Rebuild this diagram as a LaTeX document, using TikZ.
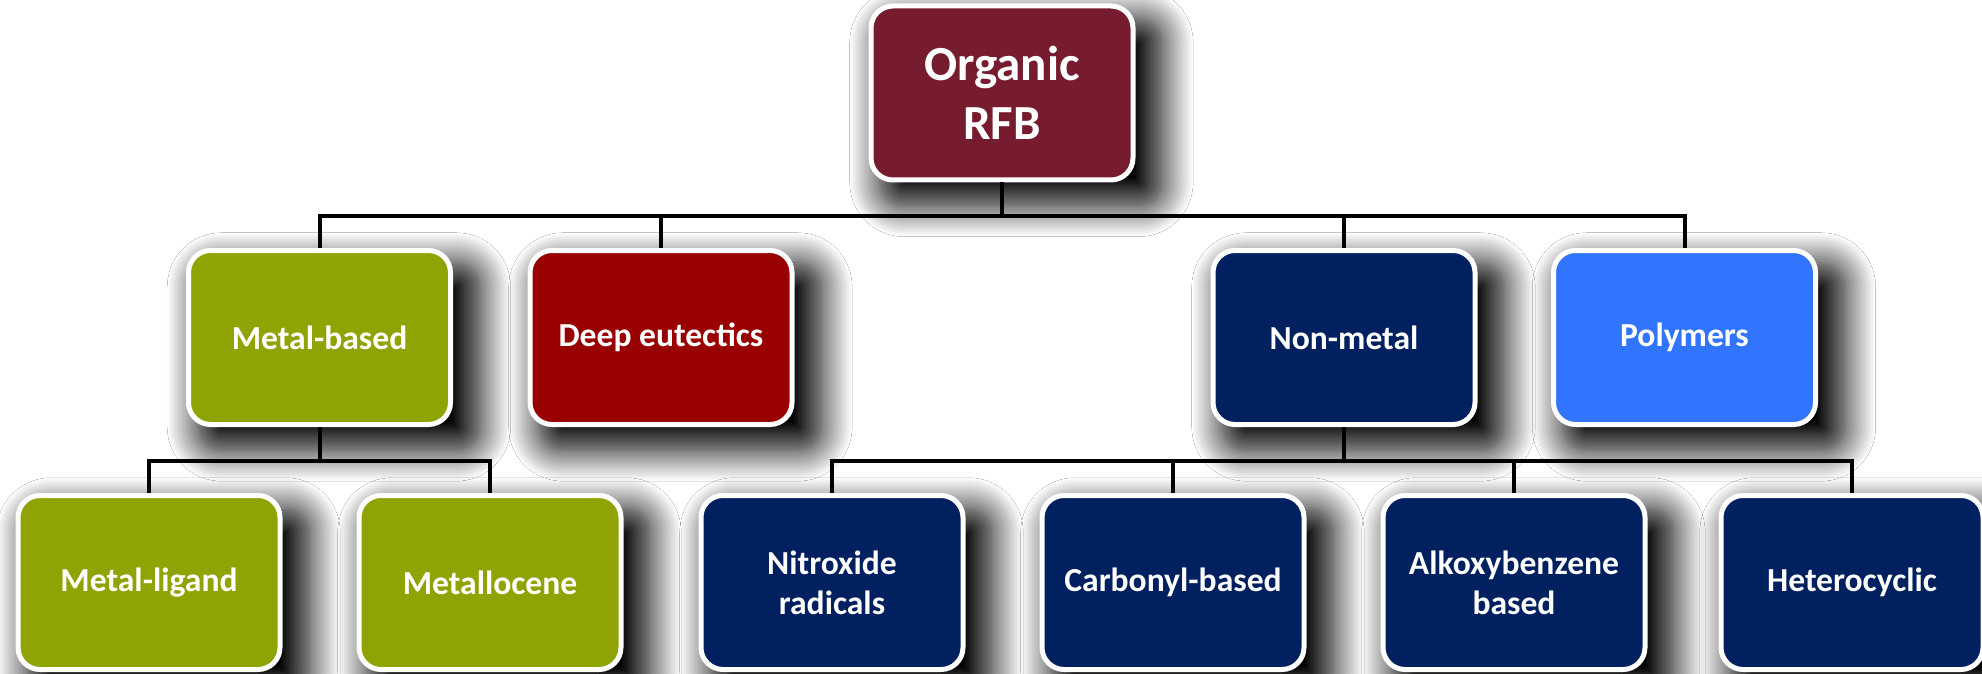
\documentclass[tikz,border=0pt]{standalone}
\usepackage{fontspec}
\setmainfont{Carlito}
\usetikzlibrary{shadows.blur}
\definecolor{cRoot}{RGB}{118,28,46}
\definecolor{cOlive}{RGB}{143,164,4}
\definecolor{cDeep}{RGB}{153,0,0}
\definecolor{cNavy}{RGB}{0,32,96}
\definecolor{cBlue}{RGB}{49,117,255}
\tikzset{
  box/.style={rectangle, rounded corners=11pt, draw=white, line width=2.5pt,
    minimum width=131pt, minimum height=87pt, text=white, align=center,
    font=\bfseries\fontsize{16.8}{20}\selectfont,
    blur shadow={shadow xshift=9pt, shadow yshift=-9pt, shadow blur radius=14pt,
      shadow blur steps=20, shadow opacity=100, shadow scale=1.08}},
  rootbox/.style={box, font=\bfseries\fontsize{24.5}{29.5}\selectfont},
  conn/.style={draw=black, line width=2pt},
}
\begin{document}
\begin{tikzpicture}[x=0.5pt,y=-0.5pt]
\fill[white] (0,0) rectangle (1982,674);
\useasboundingbox (0,0) rectangle (1982,674);
% nodes
\node[rootbox, fill=cRoot] (root) at (1002,93) {Organic\\RFB};
\node[box, fill=cOlive] (mb) at (319.5,337.5) {Metal-based};
\node[box, fill=cDeep] (de) at (661,337.5) {Deep eutectics};
\node[box, fill=cNavy] (nm) at (1344,337.5) {Non-metal};
\node[box, fill=cBlue] (pol) at (1684.5,337.5) {Polymers};
\node[box, fill=cOlive] (ml) at (149,582.5) {Metal-ligand};
\node[box, fill=cOlive] (mc) at (490,582.5) {Metallocene};
\node[box, fill=cNavy] (nr) at (832,582.5) {Nitroxide\\radicals};
\node[box, fill=cNavy] (cb) at (1173,582.5) {Carbonyl-based};
\node[box, fill=cNavy] (ab) at (1514,582.5) {Alkoxybenzene\\based};
\node[box, fill=cNavy] (hc) at (1852,582.5) {Heterocyclic};
% connectors
\coordinate (j1) at (1002,216);
\coordinate (j2) at (319.5,461);
\coordinate (j3) at (1344,461);
\draw[conn] (root.south) -- (j1);
\draw[conn] (mb.north) |- (j1) -| (pol.north);
\draw[conn] (de.north) -- (de.north |- j1);
\draw[conn] (nm.north) -- (nm.north |- j1);
\draw[conn] (mb.south) -- (j2);
\draw[conn] (ml.north) |- (j2) -| (mc.north);
\draw[conn] (nm.south) -- (j3);
\draw[conn] (nr.north) |- (j3) -| (hc.north);
\draw[conn] (cb.north) -- (cb.north |- j3);
\draw[conn] (ab.north) -- (ab.north |- j3);
\end{tikzpicture}
\end{document}
